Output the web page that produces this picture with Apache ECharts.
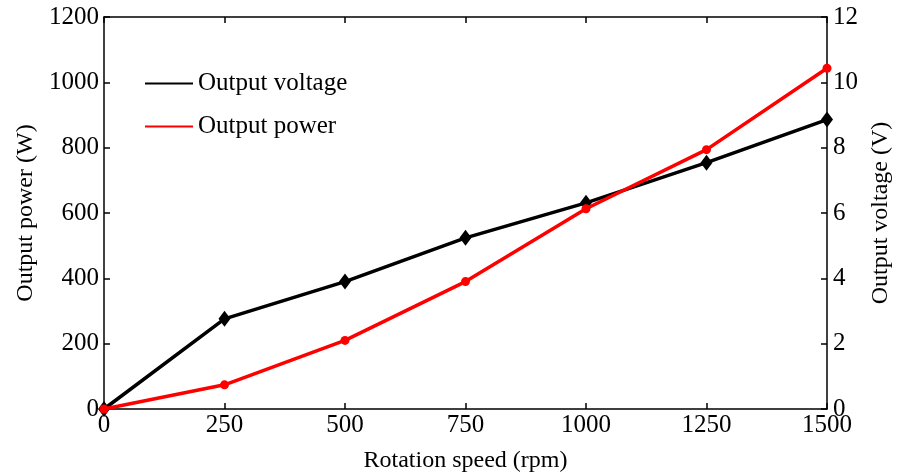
<!DOCTYPE html>
<html>
<head>
<meta charset="utf-8">
<script src="https://cdn.jsdelivr.net/npm/echarts@6/dist/echarts.min.js"></script>
<style>html,body{margin:0;padding:0;background:#fff}#c{width:898px;height:473px}</style>
</head>
<body>
<div id="c"></div>
<script>
const speeds = [0, 250, 500, 750, 1000, 1250, 1500];
const voltage = [0, 2.76, 3.90, 5.24, 6.31, 7.54, 8.86];
const power = [0, 74, 210, 390, 613, 794, 1043];

const font = 'Liberation Serif';
const chart = echarts.init(document.getElementById('c'));
const axisLine = {show: true, onZero: false, lineStyle: {color: '#000', width: 1.5}};
const tick = {show: true, inside: true, length: 6, lineStyle: {color: '#000', width: 1.5}};
const plain = v => String(v);
chart.setOption({
  animation: false,
  textStyle: {fontFamily: font},
  grid: {left: 104, right: 71, top: 17, bottom: 64, containLabel: false, outerBoundsMode: 'none'},
  legend: {
    show: true, orient: 'vertical', left: 140, top: 66, itemGap: 18,
    itemWidth: 48, itemHeight: 14, icon: 'path://M0,6 L48,6 L48,8 L0,8 Z',
    textStyle: {fontFamily: font, fontSize: 25, color: '#000'},
    data: [{name: 'Output voltage', itemStyle: {color: '#000'}}, {name: 'Output power', itemStyle: {color: '#ff0000'}}]
  },
  xAxis: [{
    type: 'value', min: 0, max: 1500, interval: 250,
    name: 'Rotation speed (rpm)', nameLocation: 'middle', nameGap: 40,
    nameTextStyle: {fontFamily: font, fontSize: 24, color: '#000'},
    axisLine: axisLine, axisTick: tick, splitLine: {show: false},
    axisLabel: {fontFamily: font, fontSize: 25, color: '#000', margin: 4, formatter: plain}
  }, {
    type: 'value', min: 0, max: 1500, interval: 250, position: 'top',
    axisLine: axisLine, axisTick: tick, splitLine: {show: false}, axisLabel: {show: false}
  }],
  yAxis: [{
    type: 'value', min: 0, max: 1200, interval: 200,
    name: 'Output power (W)', nameLocation: 'middle', nameGap: 58, nameRotate: 90,
    nameTextStyle: {fontFamily: font, fontSize: 24, color: '#000'},
    axisLine: axisLine, axisTick: tick, splitLine: {show: false},
    axisLabel: {fontFamily: font, fontSize: 25, color: '#000', margin: 5, formatter: plain}
  }, {
    type: 'value', min: 0, max: 12, interval: 2, position: 'right',
    name: 'Output voltage (V)', nameLocation: 'middle', nameGap: 35, nameRotate: 90,
    nameTextStyle: {fontFamily: font, fontSize: 24, color: '#000'},
    axisLine: axisLine, axisTick: tick, splitLine: {show: false},
    axisLabel: {fontFamily: font, fontSize: 25, color: '#000', margin: 6, formatter: plain}
  }],
  series: [{
    name: 'Output voltage', type: 'line', xAxisIndex: 0, yAxisIndex: 1,
    data: speeds.map((s, i) => [s, voltage[i]]),
    symbol: 'diamond', symbolSize: [12, 16],
    lineStyle: {color: '#000', width: 3.5}, itemStyle: {color: '#000'}, z: 2
  }, {
    name: 'Output power', type: 'line', xAxisIndex: 0, yAxisIndex: 0,
    data: speeds.map((s, i) => [s, power[i]]),
    symbol: 'circle', symbolSize: 9,
    lineStyle: {color: '#ff0000', width: 3.5}, itemStyle: {color: '#ff0000'}, z: 3
  }]
});
</script>
</body>
</html>
